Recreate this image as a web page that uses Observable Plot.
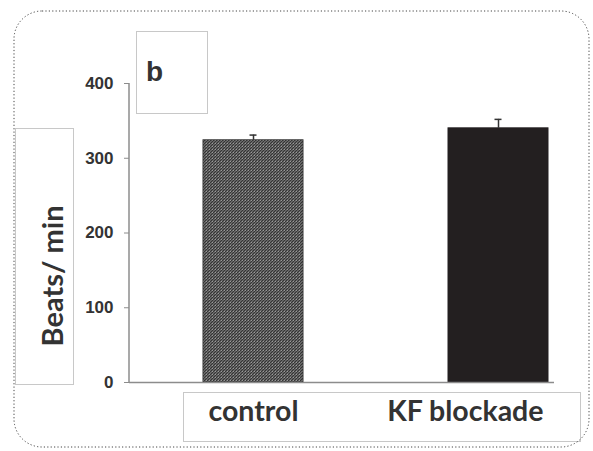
<!DOCTYPE html>
<html>
<head>
<meta charset="utf-8">
<script src="https://cdn.jsdelivr.net/npm/d3@7"></script>
<script src="https://cdn.jsdelivr.net/npm/@observablehq/plot@0.6"></script>
<style>
  html, body { margin: 0; padding: 0; background: #fff; }
  #chart { width: 593px; height: 451px; }
</style>
</head>
<body>
<div id="chart"></div>
<script>
// Data
const categories = ["control", "KF blockade"];
const means = [324, 340];
const errors = [7, 12];
const yTicks = [0, 100, 200, 300, 400];
const panelLabel = "b";
const yLabel = "Beats/ min";

const data = categories.map((c, i) => ({cat: c, value: means[i], err: errors[i]}));

const plot = Plot.plot({
  width: 593,
  height: 451,
  marginTop: 83,
  marginBottom: 69,
  marginLeft: 129,
  marginRight: 39,
  style: {background: "transparent", overflow: "visible"},
  x: {type: "band", domain: categories, paddingInner: 0.5935, paddingOuter: 0.1606, align: 0.924, label: null},
  y: {domain: [0, 400], label: null},
  marks: [
    Plot.barY(data, {filter: d => d.cat === "control", x: "cat", y: "value", fill: "url(#hatch)", stroke: "#333", strokeWidth: 1}),
    Plot.barY(data, {filter: d => d.cat !== "control", x: "cat", y: "value", fill: "#231f20", stroke: "#231f20", strokeWidth: 1}),
    Plot.ruleX(data, {x: "cat", y1: "value", y2: d => d.value + d.err, stroke: "#333", strokeWidth: 1.5}),
    Plot.tickY(data, {x: "cat", y: d => d.value + d.err, stroke: "#333", strokeWidth: 1.5, insetLeft: 46.5, insetRight: 46.5}),
    Plot.ruleY([0], {stroke: "#8c8c8c", strokeWidth: 1.5}),
    Plot.axisY({ticks: yTicks, tickSize: 5, tickPadding: 11, stroke: "#8c8c8c", tickFormat: d3.format("d"),
      fontSize: 17, fontWeight: "bold", fontFamily: "Liberation Sans, Arial, sans-serif", fill: "#333", label: null}),
    Plot.axisX({tickSize: 0, tickPadding: 18, textAnchor: "end", dx: 45, fontSize: 28.5, fontWeight: "bold",
      fontFamily: "Lato, sans-serif", fill: "#333", label: null})
  ]
});

document.getElementById("chart").appendChild(plot);

const svg = d3.select(plot);
const ys = plot.scale("y");

// hatch pattern
const defs = svg.insert("defs", ":first-child");
const pat = defs.append("pattern").attr("id", "hatch").attr("patternUnits", "userSpaceOnUse")
  .attr("width", 3).attr("height", 3);
pat.append("rect").attr("width", 3).attr("height", 3).attr("fill", "#7a7a7a");
pat.append("path").attr("d", "M-1,1 l2,-2 M0,3 l3,-3 M2,4 l2,-2").attr("stroke", "#303030").attr("stroke-width", 1.1);
pat.append("rect").attr("x", 2).attr("y", 2).attr("width", 1).attr("height", 1).attr("fill", "#9a9a9a");

// y axis line
svg.append("line")
  .attr("x1", 129).attr("x2", 129)
  .attr("y1", ys.apply(400)).attr("y2", ys.apply(0))
  .attr("stroke", "#8c8c8c").attr("stroke-width", 1.5);

// decorative boxes
const boxes = svg.append("g").attr("fill", "none").attr("stroke", "#c8c8c8").attr("stroke-width", 1);
boxes.append("rect").attr("x", 136.5).attr("y", 31.5).attr("width", 71).attr("height", 82);
boxes.append("rect").attr("x", 15.5).attr("y", 128.5).attr("width", 58).attr("height", 256);
boxes.append("rect").attr("x", 183.5).attr("y", 392.5).attr("width", 397).attr("height", 49);

// outer dotted border
svg.append("rect").attr("x", 14).attr("y", 11).attr("width", 575).attr("height", 436).attr("rx", 28)
  .attr("fill", "none").attr("stroke", "#444").attr("stroke-width", 1).attr("stroke-dasharray", "1.2,2.2");

// panel label
svg.append("text").attr("x", 146).attr("y", 81).attr("text-anchor", "start").text(panelLabel)
  .attr("font-family", "Liberation Sans, Arial, sans-serif").attr("font-weight", "bold")
  .attr("font-size", 28).attr("fill", "#333");

// y label
svg.append("text").attr("transform", "translate(63,276) rotate(-90)").attr("text-anchor", "middle")
  .text(yLabel).attr("font-family", "Lato, sans-serif").attr("font-weight", "bold")
  .attr("font-size", 29).attr("fill", "#333");
</script>
</body>
</html>
